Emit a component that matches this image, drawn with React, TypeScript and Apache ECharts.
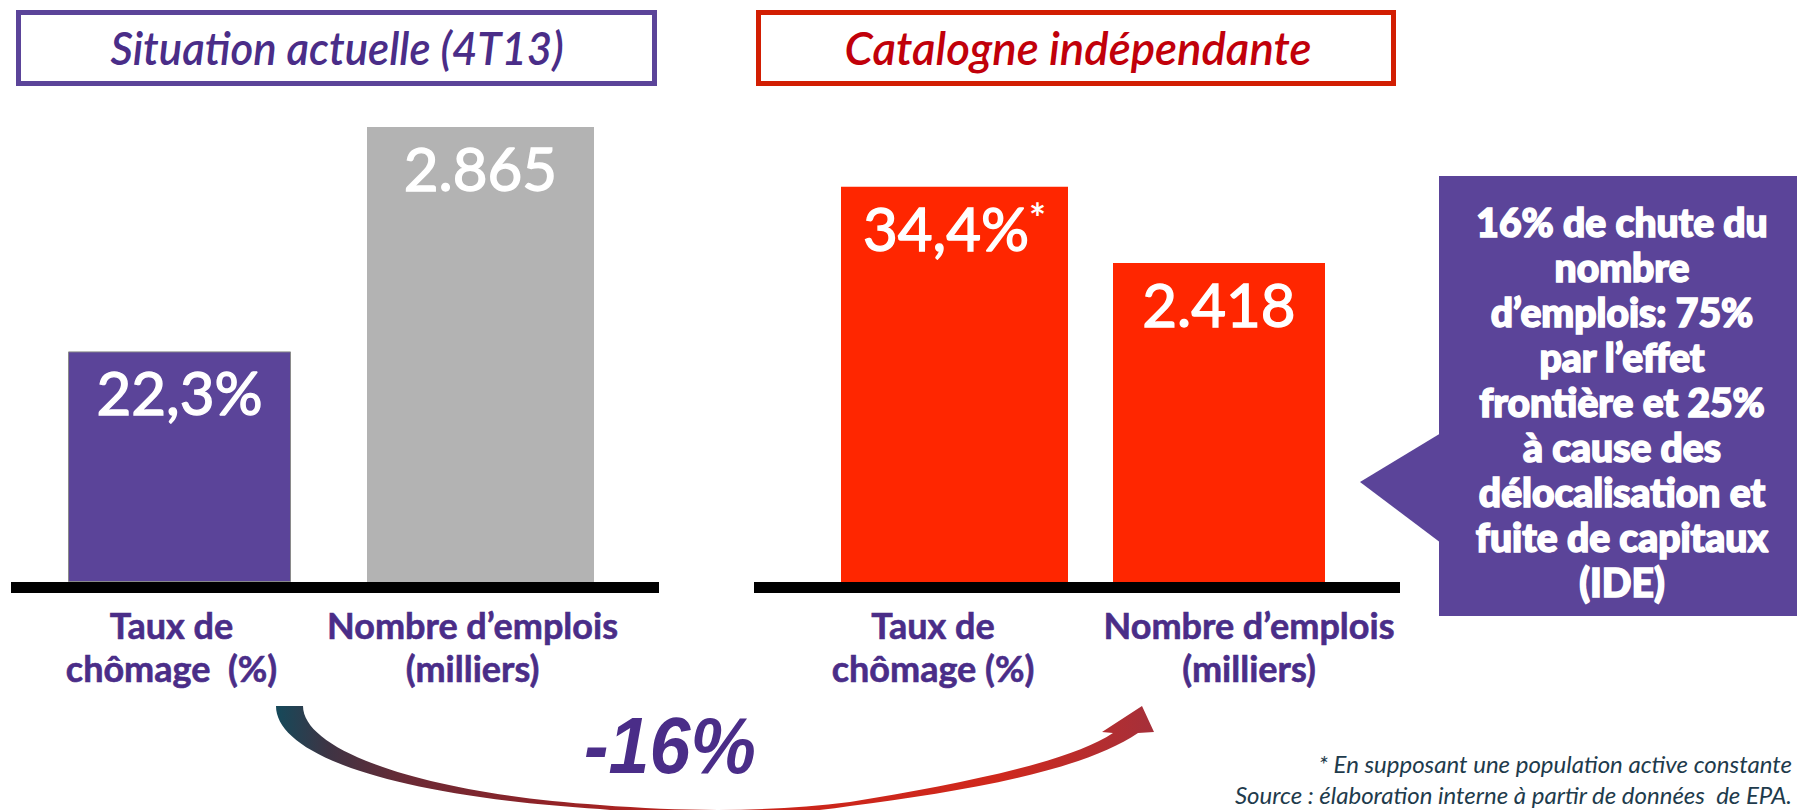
import { useEffect, useRef } from 'react';
import * as echarts from 'echarts';

// ---------- data ----------
const panelTitles = ['Situation actuelle (4T13)', 'Catalogne indépendante'];
const categoriesActuelle = ['Taux de\nchômage  (%)', 'Nombre d’emplois\n(milliers)'];
const categoriesCatalogne = ['Taux de\nchômage (%)', 'Nombre d’emplois\n(milliers)'];
const tauxChomage = [22.3, 34.4]; // actuelle, Catalogne indépendante
const nombreEmplois = [2865, 2418]; // milliers
const tauxNotes = ['', '*'];
const variationEmplois = '-16%';
const calloutLines = [
  '16% de chute du',
  'nombre',
  'd’emplois: 75%',
  'par l’effet',
  'frontière et 25%',
  'à cause des',
  'délocalisation et',
  'fuite de capitaux',
  '(IDE)',
];
const footnotes = [
  '* En supposant une population active constante',
  'Source : élaboration interne à partir de données  de EPA.',
];

// ---------- styles ----------
const PURPLE = '#5B4499';
const PURPLE_TEXT = '#4A2D88';
const GRAY = '#B3B3B3';
const RED = '#FF2600';
const RED_BORDER = '#D21E02';
const RED_TEXT = '#C1000A';

const ARROW_PATH =
  'M 276 706 C 276 752 380 795 600 809 C 690 818 770 818 850 806 C 960 792 1080 772 1138 733 ' +
  'L 1154 732 L 1142 706 L 1102 732 L 1113 733 ' +
  'C 1070 762 960 784 850 802 C 770 812 690 812 600 805 C 420 793 303 750 303 706 Z';

let registered = false;
function ensureShapes() {
  if (registered) return;
  echarts.graphic.registerShape('curvedArrow', echarts.graphic.extendPath(ARROW_PATH, {}));
  registered = true;
}

const fmtTaux = (v: number) => v.toFixed(1).replace('.', ',') + '%';
const fmtEmplois = (v: number) => String(v).replace(/\B(?=(\d{3})+(?!\d))/g, '.');

const labelRich = {
  v: {
    fontSize: 60,
    color: '#fff',
    fontFamily: 'Lato',
    fontWeight: 'normal',
    textBorderColor: '#fff',
    textBorderWidth: 1.4,
  },
  s: {
    fontSize: 40,
    color: '#fff',
    fontFamily: 'Lato',
    fontWeight: 'bold',
    verticalAlign: 'top',
  },
};

function barLabel(formatter: (p: any) => string) {
  return {
    show: true,
    position: 'insideTop',
    distance: 11,
    formatter,
    rich: labelRich,
  };
}

function makeCats(cats: string[], shifts: number[]) {
  return cats.map((c, i) => ({
    value: c,
    textStyle: {
      padding: shifts[i] < 0 ? [0, -2 * shifts[i], 0, 0] : [0, 0, 0, 2 * shifts[i]],
    },
  }));
}

const axisLabelStyle = {
  color: PURPLE_TEXT,
  fontSize: 36,
  fontFamily: 'Lato',
  fontWeight: 'bold',
  lineHeight: 43,
  margin: 21,
  interval: 0,
  textBorderColor: PURPLE_TEXT,
  textBorderWidth: 0.6,
};

export default function App() {
  const ref = useRef<HTMLDivElement>(null);

  useEffect(() => {
    if (!ref.current) return;
    ensureShapes();
    const chart = echarts.init(ref.current, null, { renderer: 'svg' });

    const option: any = {
      animation: false,
      backgroundColor: '#ffffff',
      grid: [
        { left: 32, width: 598, top: 127, height: 455 },
        { left: 811, width: 544, top: 127, height: 455 },
      ],
      xAxis: [
        {
          type: 'category',
          gridIndex: 0,
          data: makeCats(categoriesActuelle, [-10, -8]),
          axisLine: { show: false },
          axisTick: { show: false },
          axisLabel: axisLabelStyle,
        },
        {
          type: 'category',
          gridIndex: 1,
          data: makeCats(categoriesCatalogne, [-14, 30]),
          axisLine: { show: false },
          axisTick: { show: false },
          axisLabel: axisLabelStyle,
        },
      ],
      yAxis: [
        { type: 'value', gridIndex: 0, min: 0, max: 44, show: false, splitLine: { show: false } },
        { type: 'value', gridIndex: 0, min: 0, max: 2865, show: false, splitLine: { show: false } },
        { type: 'value', gridIndex: 1, min: 0, max: 39.6, show: false, splitLine: { show: false } },
        { type: 'value', gridIndex: 1, min: 0, max: 3450, show: false, splitLine: { show: false } },
      ],
      series: [
        {
          type: 'bar',
          xAxisIndex: 0,
          yAxisIndex: 0,
          data: [tauxChomage[0], '-'],
          barWidth: 223,
          barGap: '-100%',
          itemStyle: { color: PURPLE, borderColor: '#8a8a8a', borderWidth: 1 },
          label: barLabel((p: any) => `{v|${fmtTaux(p.value)}}` + (tauxNotes[0] ? `{s|${tauxNotes[0]}}` : '')),
        },
        {
          type: 'bar',
          xAxisIndex: 0,
          yAxisIndex: 1,
          data: ['-', nombreEmplois[0]],
          barWidth: 227,
          barGap: '-100%',
          itemStyle: { color: GRAY },
          label: barLabel((p: any) => `{v|${fmtEmplois(p.value)}}`),
        },
        {
          type: 'bar',
          xAxisIndex: 1,
          yAxisIndex: 2,
          data: [tauxChomage[1], '-'],
          barWidth: 227,
          barGap: '-100%',
          itemStyle: { color: RED },
          label: barLabel((p: any) => `{v|${fmtTaux(p.value)}}` + (tauxNotes[1] ? `{s|${tauxNotes[1]}}` : '')),
        },
        {
          type: 'bar',
          xAxisIndex: 1,
          yAxisIndex: 3,
          data: ['-', nombreEmplois[1]],
          barWidth: 212,
          barGap: '-100%',
          itemStyle: { color: RED },
          label: barLabel((p: any) => `{v|${fmtEmplois(p.value)}}`),
        },
      ],
      graphic: [
        // title boxes
        {
          type: 'rect',
          shape: { x: 18.5, y: 12.5, width: 636, height: 71 },
          style: { fill: '#fff', stroke: PURPLE, lineWidth: 5 },
        },
        {
          type: 'text',
          x: 337,
          y: 47,
          scaleX: 0.93,
          style: {
            text: panelTitles[0],
            fontSize: 47,
            fontFamily: 'Lato',
            fontStyle: 'italic',
            fontWeight: 600,
            fill: PURPLE_TEXT,
            align: 'center',
            verticalAlign: 'middle',
          },
        },
        {
          type: 'rect',
          shape: { x: 758.5, y: 12.5, width: 635, height: 71 },
          style: { fill: '#fff', stroke: RED_BORDER, lineWidth: 5 },
        },
        {
          type: 'text',
          x: 1078,
          y: 47,
          scaleX: 0.97,
          style: {
            text: panelTitles[1],
            fontSize: 47,
            fontFamily: 'Lato',
            fontStyle: 'italic',
            fontWeight: 600,
            fill: RED_TEXT,
            align: 'center',
            verticalAlign: 'middle',
          },
        },
        // baselines
        { type: 'rect', shape: { x: 11, y: 582, width: 648, height: 11 }, style: { fill: '#000' } },
        { type: 'rect', shape: { x: 754, y: 582, width: 646, height: 11 }, style: { fill: '#000' } },
        // callout
        {
          type: 'polygon',
          shape: { points: [[1441, 433], [1360, 482], [1441, 543]] },
          style: { fill: PURPLE },
        },
        {
          type: 'rect',
          shape: { x: 1439, y: 176, width: 400, height: 440 },
          style: { fill: PURPLE },
        },
        {
          type: 'text',
          x: 1622,
          y: 402,
          style: {
            text: calloutLines.join('\n'),
            fontSize: 39,
            lineHeight: 45,
            fontFamily: 'Lato',
            fontWeight: 900,
            fill: '#fff',
            stroke: '#fff',
            lineWidth: 1.6,
            align: 'center',
            verticalAlign: 'middle',
          },
        },
        // curved arrow
        {
          type: 'curvedArrow',
          x: 0,
          y: 0,
          style: {
            fill: new echarts.graphic.LinearGradient(0, 0, 1, 0, [
              { offset: 0, color: '#15495A' },
              { offset: 0.06, color: '#3E3444' },
              { offset: 0.15, color: '#6A2A35' },
              { offset: 0.3, color: '#8E2328' },
              { offset: 0.5, color: '#C8241A' },
              { offset: 0.82, color: '#D0281C' },
              { offset: 1, color: '#A5303A' },
            ]),
          },
        },
        {
          type: 'text',
          x: 670,
          y: 745,
          scaleX: 0.92,
          style: {
            text: variationEmplois,
            fontSize: 80,
            fontFamily: '"Liberation Sans", Arial, sans-serif',
            fontWeight: 'bold',
            fontStyle: 'italic',
            fill: PURPLE_TEXT,
            align: 'center',
            verticalAlign: 'middle',
          },
        },
        // footnotes
        {
          type: 'text',
          x: 1792,
          y: 763,
          style: {
            text: footnotes[0],
            fontSize: 24,
            fontFamily: 'Lato',
            fontStyle: 'italic',
            fill: '#1E3B4C',
            align: 'right',
            verticalAlign: 'middle',
          },
        },
        {
          type: 'text',
          x: 1792,
          y: 794,
          style: {
            text: footnotes[1],
            fontSize: 24,
            fontFamily: 'Lato',
            fontStyle: 'italic',
            fill: '#1E3B4C',
            align: 'right',
            verticalAlign: 'middle',
          },
        },
      ],
    };

    chart.setOption(option);
    return () => chart.dispose();
  }, []);

  return (
    <div
      ref={ref}
      style={{ position: 'fixed', left: 0, top: 0, width: 1797, height: 810, background: '#fff' }}
    />
  );
}
